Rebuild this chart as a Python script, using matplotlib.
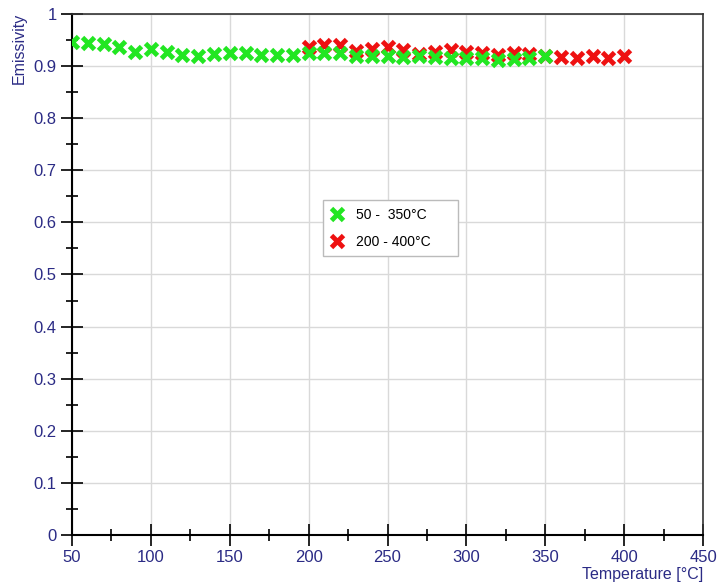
import matplotlib
matplotlib.use("Agg")
import matplotlib.pyplot as plt
from matplotlib.ticker import MultipleLocator, FuncFormatter

temps_a = [50, 60, 70, 80, 90, 100, 110, 120, 130, 140, 150, 160, 170, 180, 190,
           200, 210, 220, 230, 240, 250, 260, 270, 280, 290, 300, 310, 320, 330, 340, 350]
emis_a = [0.947, 0.945, 0.942, 0.937, 0.927, 0.932, 0.928, 0.921, 0.920, 0.923, 0.925, 0.925,
          0.922, 0.922, 0.922, 0.925, 0.926, 0.925, 0.920, 0.919, 0.920, 0.918, 0.920, 0.918,
          0.915, 0.915, 0.916, 0.912, 0.913, 0.915, 0.919]
temps_b = [200, 210, 220, 230, 240, 250, 260, 270, 280, 290, 300, 310, 320, 330, 340,
           350, 360, 370, 380, 390, 400]
emis_b = [0.937, 0.940, 0.940, 0.929, 0.932, 0.936, 0.930, 0.923, 0.928, 0.930, 0.928,
          0.925, 0.921, 0.926, 0.923, 0.919, 0.918, 0.915, 0.919, 0.915, 0.919]
label_a = "50 -  350°C"
label_b = "200 - 400°C"

navy = "#2b2b85"
plt.rcParams['font.family'] = ['Liberation Sans', 'DejaVu Sans']

fig = plt.figure(figsize=(7.19, 5.88), dpi=100)
ax = fig.add_axes([72/719, 53/588, 631/719, 521/588])

ha, = ax.plot(temps_a, emis_a, linestyle='none', marker='x', color='#22e622',
              markersize=8, markeredgewidth=3.5, zorder=4, label=label_a)
hb, = ax.plot(temps_b, emis_b, linestyle='none', marker='x', color='#ee1111',
              markersize=8, markeredgewidth=3.5, zorder=3, label=label_b)

ax.set_xlim(50, 450)
ax.set_ylim(0, 1)
ax.xaxis.set_major_locator(MultipleLocator(50))
ax.xaxis.set_minor_locator(MultipleLocator(25))
ax.yaxis.set_major_locator(MultipleLocator(0.1))
ax.yaxis.set_minor_locator(MultipleLocator(0.05))
ax.yaxis.set_major_formatter(FuncFormatter(lambda v, p: "0" if abs(v) < 1e-9 else f"{v:.1f}".rstrip('0').rstrip('.')))

ax.grid(True, which='major', color='#d9d9d9', linewidth=1.0, zorder=0)
ax.set_axisbelow(True)

ax.tick_params(which='major', direction='inout', length=16, width=1.2, colors='black',
               labelcolor=navy, labelsize=12, pad=3, top=False, right=False)
ax.tick_params(which='minor', direction='inout', length=9, width=1.2, colors='black',
               top=False, right=False)

for s in ['left', 'bottom']:
    ax.spines[s].set_linewidth(1.5)
    ax.spines[s].set_color('black')
for s in ['top', 'right']:
    ax.spines[s].set_linewidth(1.2)
    ax.spines[s].set_color('#333333')

fig.text(19/719, 1 - 48/588, "Emissivity", rotation=90, ha='center', va='center',
         color=navy, fontsize=11.5)
fig.text(703/719, 1 - 575/588, "Temperature [°C]", ha='right', va='center',
         color=navy, fontsize=11.5)

bx0 = (323 - 72) / 631
bw = (458 - 323) / 631
by1 = (535 - 200) / 521
bh = 53 / 521
leg = ax.legend(handles=[ha, hb], loc='upper left', mode='expand',
                bbox_to_anchor=(bx0, by1 - bh, bw, bh), borderaxespad=0,
                frameon=True, fancybox=False, edgecolor='#bbbbbb', framealpha=1,
                fontsize=10, handlelength=0.9, handletextpad=0.9, borderpad=0.55,
                labelspacing=0.95)
leg.get_frame().set_linewidth(1.0)

fig.savefig("out.png", dpi=100)
